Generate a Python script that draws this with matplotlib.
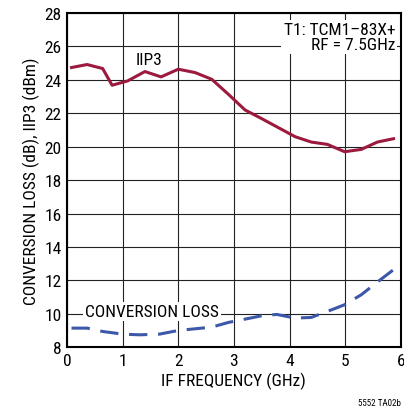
import matplotlib.pyplot as plt

plt.rcParams['font.family'] = ['Roboto Condensed', 'DejaVu Sans']

# IIP3 (dBm) vs IF frequency (GHz)
iip3_freq = [0.08, 0.36, 0.64, 0.81, 1.09, 1.4, 1.69, 2.0, 2.3, 2.6, 2.9,
             3.2, 3.5, 3.8, 4.1, 4.39, 4.68, 4.99, 5.29, 5.58, 5.87]
iip3 = [24.74, 24.92, 24.68, 23.68, 23.94, 24.5, 24.18, 24.64, 24.44, 24.04, 23.14,
        22.2, 21.68, 21.14, 20.6, 20.28, 20.14, 19.7, 19.84, 20.28, 20.48]

# conversion loss (dB)
cl_freq = [0.08, 0.36, 0.64, 1.0, 1.3, 1.66, 2.0, 2.6, 2.9, 3.2, 3.5, 3.77,
           4.1, 4.39, 4.68, 4.99, 5.29, 5.58, 5.87]
conv_loss = [9.14, 9.14, 8.94, 8.78, 8.74, 8.78, 9.0, 9.2, 9.48, 9.68, 9.88, 9.96,
             9.74, 9.78, 10.14, 10.54, 11.14, 11.9, 12.64]

xticks = [0, 1, 2, 3, 4, 5, 6]
yticks = [8, 10, 12, 14, 16, 18, 20, 22, 24, 26, 28]

fig = plt.figure(figsize=(4.04, 4.14), dpi=100)
ax = fig.add_axes([0.166, 0.159, 0.826, 0.807])

ax.plot(iip3_freq, iip3, color='#9c1a3d', lw=2.2, solid_joinstyle='round')
ax.plot(cl_freq, conv_loss, color='#3d58a8', lw=2.2, dashes=(6, 3.5))

ax.set_xlim(0, 6)
ax.set_ylim(8, 28)
ax.set_xticks(xticks)
ax.set_yticks(yticks)
ax.grid(True, color='#222222', lw=0.8)
ax.tick_params(length=0, labelsize=12.5, pad=4)
for s in ax.spines.values():
    s.set_linewidth(1.5)

ax.set_xlabel('IF FREQUENCY (GHz)', fontsize=12.5, labelpad=3)
ax.set_ylabel('CONVERSION LOSS (dB), IIP3 (dBm)', fontsize=12.5, labelpad=3)

ax.text(1.48, 25.25, 'IIP3', fontsize=12.5, ha='center', va='center')
ax.text(1.53, 10.15, 'CONVERSION LOSS', fontsize=12.5, ha='center', va='center',
        bbox=dict(facecolor='white', edgecolor='none', pad=1.5))
ax.text(5.9, 26.55, 'T1: TCM1\u201383X+\nRF = 7.5GHz', fontsize=12.5, ha='right', va='center',
        linespacing=1.0, bbox=dict(facecolor='white', edgecolor='none', pad=1.5))

fig.text(0.993, 0.015, '5552 TA02b', fontsize=6.5, ha='right', va='bottom')

fig.savefig('out.png', dpi=100)
